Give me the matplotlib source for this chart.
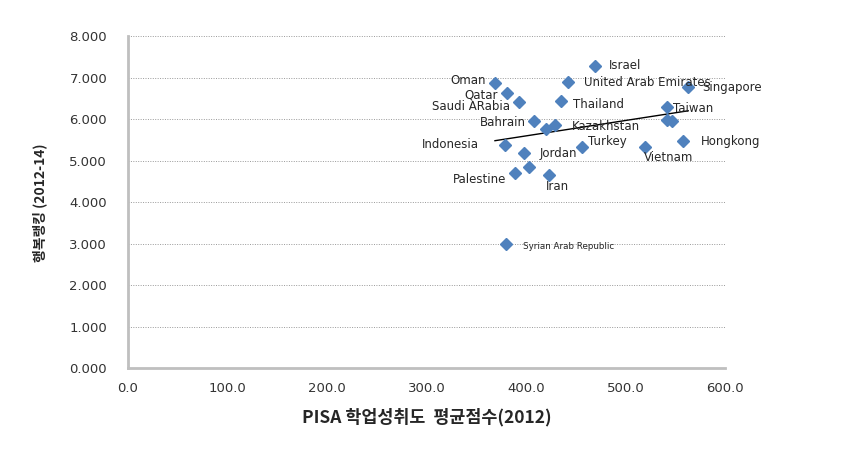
import numpy as np
import matplotlib
matplotlib.use("Agg")
import matplotlib.pyplot as plt

plt.rcParams['font.family'] = ['DejaVu Sans', 'Noto Sans CJK KR']

# PISA mean score (2012) vs happiness score (2012-14)
countries = ["Israel", "United Arab Emirates", "Oman", "Qatar", "Saudi ARabia",
             "Thailand", "Singapore", "Taiwan", "", "",
             "Bahrain", "", "Kazakhstan", "Indonesia", "Jordan",
             "Turkey", "Vietnam", "Hongkong", "Palestine", "",
             "Iran", "Syrian Arab Republic"]
pisa = [469.6, 441.9, 368.8, 380.6, 393.0,
        435.5, 563.0, 542.0, 541.4, 547.0,
        408.0, 420.0, 429.0, 379.0, 397.7,
        456.0, 520.0, 558.0, 388.6, 403.0,
        422.8, 379.6]
happy = [7.29, 6.89, 6.86, 6.62, 6.42,
         6.44, 6.78, 6.30, 5.98, 5.96,
         5.96, 5.76, 5.85, 5.38, 5.19,
         5.32, 5.34, 5.47, 4.70, 4.84,
         4.66, 2.99]

# label offsets in pixels (dx, dy, ha)
offsets = {
    "Israel": (14, 0, "left"),
    "United Arab Emirates": (16, 0, "left"),
    "Oman": (-9, 3, "right"),
    "Qatar": (-9, -2, "right"),
    "Saudi ARabia": (-9, -5, "right"),
    "Thailand": (12, -4, "left"),
    "Singapore": (14, -1, "left"),
    "Taiwan": (6, -2, "left"),
    "Bahrain": (-8, -2, "right"),
    "Kazakhstan": (17, -1, "left"),
    "Indonesia": (-26, 0, "right"),
    "Jordan": (16, -1, "left"),
    "Turkey": (6, 6, "left"),
    "Vietnam": (-2, -11, "left"),
    "Hongkong": (18, 0, "left"),
    "Palestine": (-8, -6, "right"),
    "Iran": (-3, -12, "left"),
    "Syrian Arab Republic": (17, -2, "left"),
}

fig = plt.figure(figsize=(8.58, 4.49), dpi=100)
ax = fig.add_axes([0.1492, 0.1793, 0.6958, 0.7405])

ax.plot(pisa, happy, linestyle="none", marker="D", markersize=6.5,
        color="#4F81BD", zorder=3)

# linear trendline over the data range
k, c = np.polyfit(pisa, happy, 1)
xs = np.array([min(pisa), max(pisa)])
ax.plot(xs, k * xs + c, color="black", linewidth=1, zorder=2)

for name, x, y in zip(countries, pisa, happy):
    if not name:
        continue
    dx, dy, ha = offsets[name]
    fs = 6.3 if name.startswith("Syrian") else 8.5
    ax.annotate(name, (x, y), xytext=(dx, dy), textcoords="offset pixels",
                ha=ha, va="center", fontsize=fs, color="#262626", zorder=4)

ax.set_xlim(0, 600)
ax.set_ylim(0, 8)
ax.set_xticks(np.arange(0, 601, 100))
ax.set_xticklabels([f"{v:.1f}" for v in np.arange(0, 601, 100)])
ax.set_yticks(np.arange(0, 9, 1))
ax.set_yticklabels([f"{v:.3f}" for v in np.arange(0, 9, 1)])
ax.tick_params(length=0, labelsize=9.5, labelcolor="#333333")
ax.tick_params(axis="y", pad=15)
ax.tick_params(axis="x", pad=10)

ax.grid(axis="y", linestyle=(0, (1, 1.5)), color="#999999", linewidth=0.7)
ax.set_axisbelow(True)
for s in ["top", "right"]:
    ax.spines[s].set_visible(False)
for s in ["left", "bottom"]:
    ax.spines[s].set_color("#BFBFBF")
    ax.spines[s].set_linewidth(2)

ax.set_xlabel("PISA 학업성취도  평균점수(2012)", fontsize=12.5, fontweight="bold",
              family=["Noto Sans CJK KR", "DejaVu Sans"], color="#262626")
ax.set_ylabel("행복랭킹 (2012-14)", fontsize=10, fontweight="bold",
              family=["Noto Sans CJK KR", "DejaVu Sans"], color="#262626")
ax.xaxis.set_label_coords(0.5, -0.12)
ax.yaxis.set_label_coords(-0.136, 0.5)

fig.savefig("out.png", dpi=100)
